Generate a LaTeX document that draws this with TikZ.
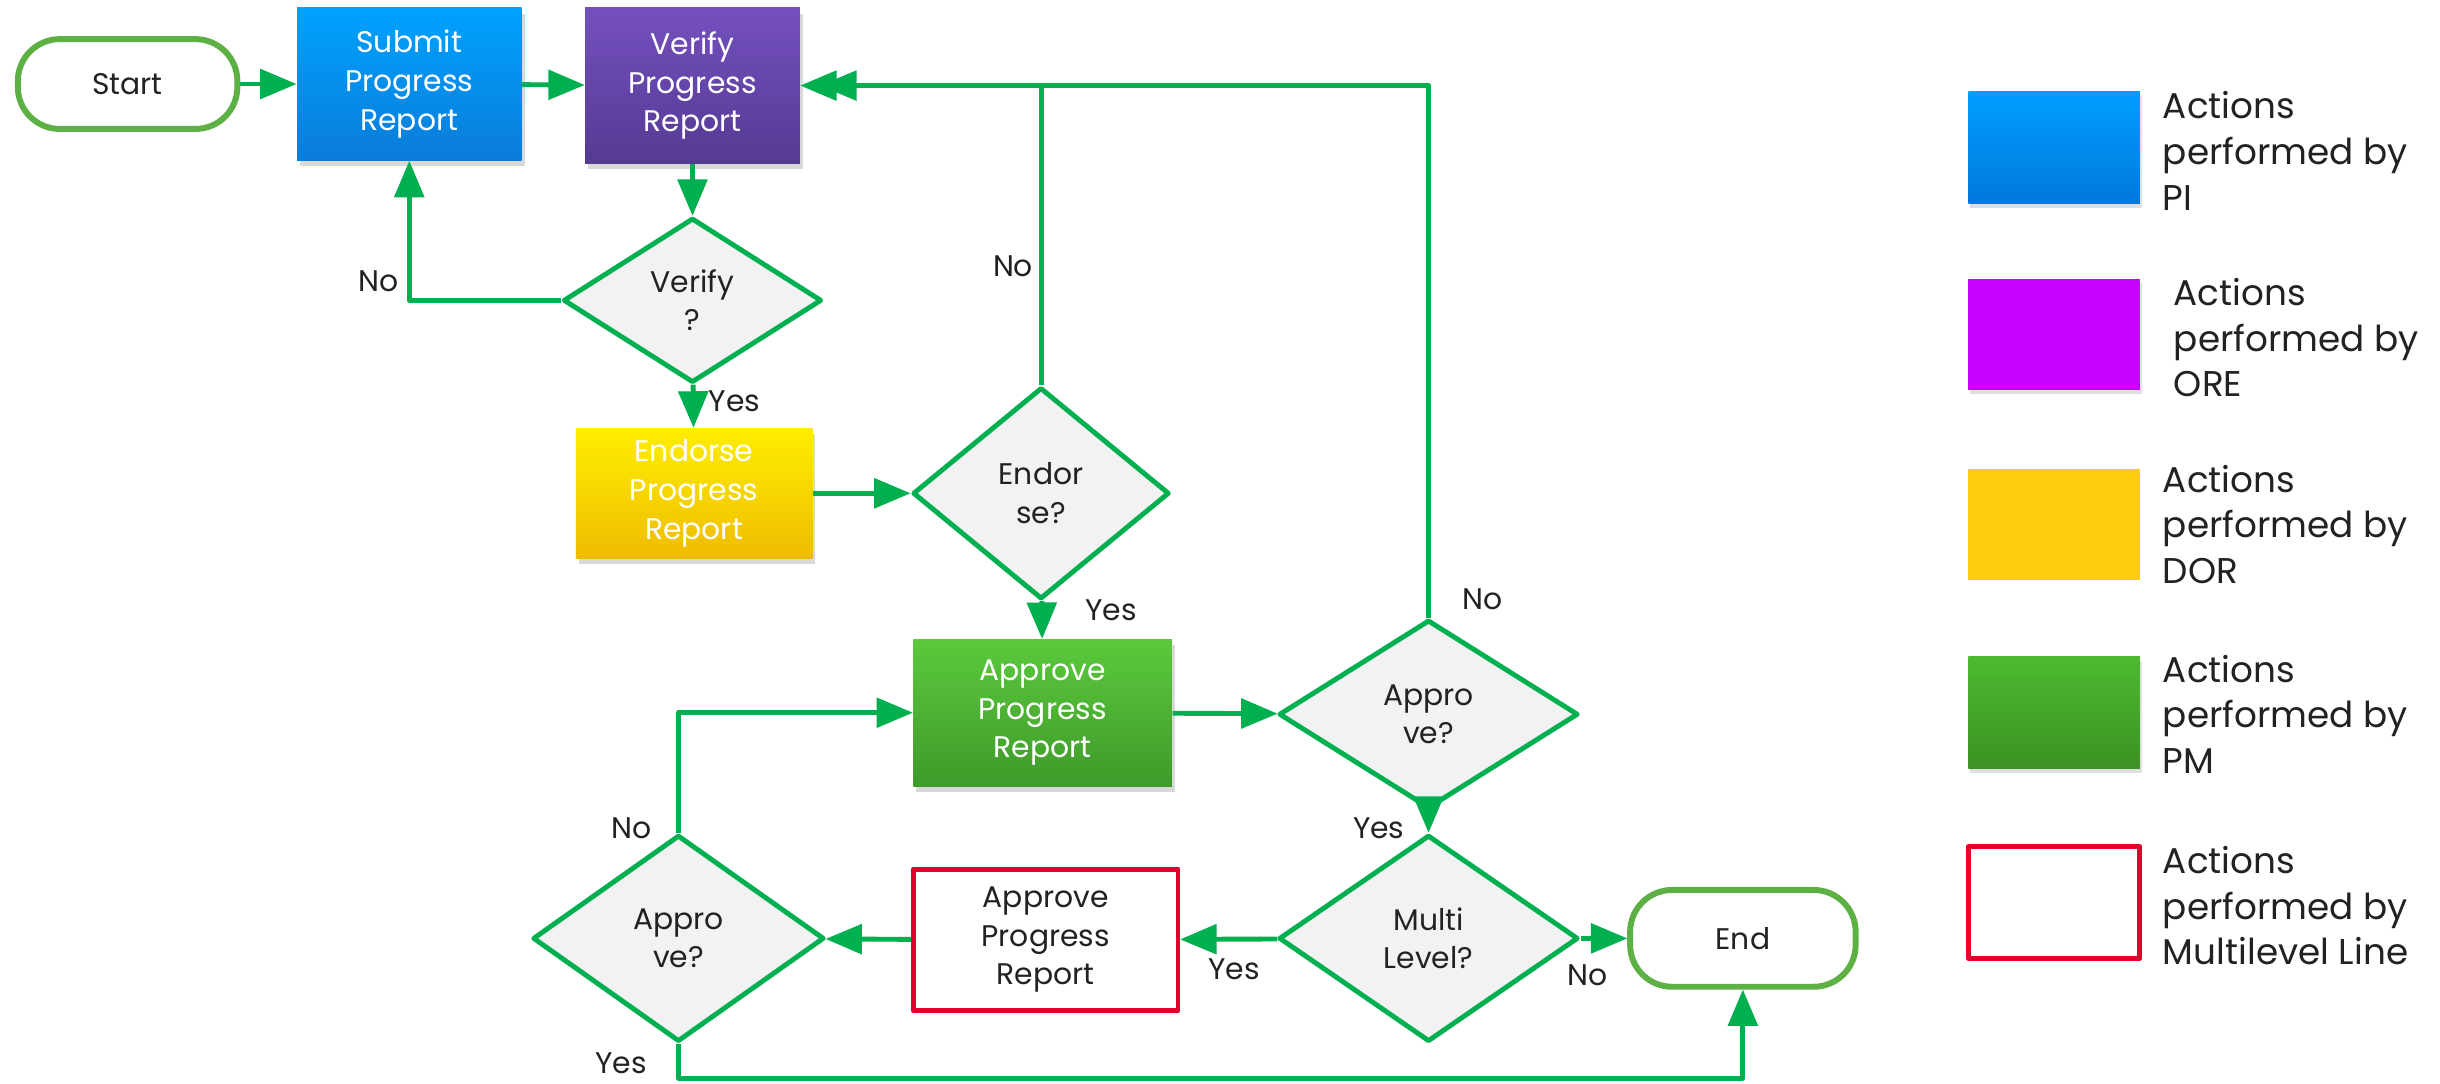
\documentclass[tikz,border=0pt]{standalone}
\usepackage{fontspec}
\setmainfont{Poppins}
\usetikzlibrary{arrows,shapes.geometric,shadows}
\definecolor{flowgreen}{HTML}{00B050}
\definecolor{termgreen}{HTML}{5DB043}
\definecolor{diafill}{HTML}{F2F2F2}
\definecolor{txtgray}{HTML}{222222}
\definecolor{multired}{HTML}{E4002B}
\begin{document}
\begin{tikzpicture}[x=0.0156cm,y=-0.0156cm,>=triangle 45,line join=round,
  conn/.style={draw=flowgreen,line width=1.4pt,->},
  term/.style={draw=termgreen,line width=1.7pt,rounded corners=0.42cm,fill=white,text=txtgray,
    minimum width=2.2cm,minimum height=0.9cm,font=\fontsize{8.5}{11}\selectfont},
  proc/.style={rectangle,align=center,text=white,font=\fontsize{8.5}{11}\selectfont,
    drop shadow={opacity=0.3,shadow xshift=0.03cm,shadow yshift=-0.06cm}},
  decide/.style={diamond,draw=flowgreen,line width=1.4pt,fill=diafill,inner sep=0pt,
    align=center,text=txtgray,font=\fontsize{8.5}{11}\selectfont},
  lbl/.style={text=txtgray,font=\fontsize{8.5}{11}\selectfont},
  keybox/.style={minimum width=1.72cm,minimum height=1.12cm,inner sep=0pt},
  keytext/.style={anchor=west,align=left,text=txtgray,font=\fontsize{10.2}{13}\selectfont}]
\useasboundingbox (0,0) rectangle (1568,696);
\node[term] (start) at (82,54) {Start};
\node[proc,minimum width=2.25cm,minimum height=1.53cm,top color={rgb,255:red,0;green,162;blue,255},bottom color={rgb,255:red,10;green,124;blue,216}] (submit) at (263,54) {Submit\\Progress\\Report};
\node[proc,minimum width=2.15cm,minimum height=1.56cm,top color={rgb,255:red,116;green,80;blue,190},bottom color={rgb,255:red,85;green,58;blue,147}] (verify) at (445,55) {Verify\\Progress\\Report};
\node[decide,minimum width=2.59cm,minimum height=1.65cm] (verq) at (445,193) {Verify\\?};
\node[proc,minimum width=2.37cm,minimum height=1.23cm,top color={rgb,255:red,255;green,238;blue,0},bottom color={rgb,255:red,238;green,188;blue,0}] (endorse) at (446,317) {Endorse\\Progress\\Report};
\node[decide,minimum width=2.57cm,minimum height=2.12cm] (endq) at (669,317) {Endor\\se?};
\node[proc,minimum width=2.59cm,minimum height=1.47cm,top color={rgb,255:red,91;green,201;blue,60},bottom color={rgb,255:red,63;green,154;blue,42}] (approve) at (670,458) {Approve\\Progress\\Report};
\node[decide,minimum width=3cm,minimum height=1.89cm] (appq) at (918,459) {Appro\\ve?};
\node[decide,minimum width=3cm,minimum height=2.07cm] (multq) at (918,603) {Multi\\Level?};
\node[term,minimum width=2.26cm,minimum height=0.97cm] (end) at (1120,603) {End};
\node[rectangle,draw=multired,line width=1.4pt,fill=white,align=center,text=txtgray,font=\fontsize{8.5}{11}\selectfont,minimum width=2.65cm,minimum height=1.42cm] (multi) at (672,604) {Approve\\Progress\\Report};
\node[decide,minimum width=2.92cm,minimum height=2.07cm] (lineq) at (436,603) {Appro\\ve?};
\coordinate (bottom) at (436,693);
\draw[conn] (start) -- (submit);
\draw[conn] (submit) -- (verify);
\draw[conn] (verify) -- (verq);
\draw[conn] (verq.west) -| (submit.south);
\draw[conn] (verq) -- (endorse);
\draw[conn] (endorse) -- (endq);
\draw[conn] (endq.north) |- (verify.east);
\draw[conn,shorten >=0.2cm] (appq.north) |- (verify.east);
\draw[conn] (endq) -- (approve);
\draw[conn] (approve) -- (appq);
\draw[conn] (appq) -- (multq);
\draw[conn] (multq) -- (multi);
\draw[conn] (multi) -- (lineq);
\draw[conn] (multq) -- (end);
\draw[conn] (lineq.north) |- (approve.west);
\draw[conn] (lineq.south) -- (bottom) -| (end.south);
\node[lbl] (l1) at (243,181) {No};
\node[lbl] (l2) at (472,258) {Yes};
\node[lbl] (l3) at (651,171) {No};
\node[lbl] (l4) at (714,392) {Yes};
\node[lbl] (l5) at (953,385) {No};
\node[lbl] (l6) at (886,532) {Yes};
\node[lbl] (l7) at (406,532) {No};
\node[lbl] (l8) at (793,623) {Yes};
\node[lbl] (l9) at (1020,627) {No};
\node[lbl] (l10) at (399,683) {Yes};
\node[keybox,top color={rgb,255:red,0;green,158;blue,255},bottom color={rgb,255:red,0;green,120;blue,220},drop shadow={opacity=0.25,shadow xshift=0.02cm,shadow yshift=-0.04cm}] (kpi) at (1320,95) {};
\node[keybox,fill={rgb,255:red,200;green,0;blue,255},drop shadow={opacity=0.25,shadow xshift=0.02cm,shadow yshift=-0.04cm}] (kore) at (1320,215) {};
\node[keybox,fill={rgb,255:red,255;green,204;blue,13}] (kdor) at (1320,337) {};
\node[keybox,top color={rgb,255:red,76;green,186;blue,47},bottom color={rgb,255:red,60;green,146;blue,36},drop shadow={opacity=0.25,shadow xshift=0.02cm,shadow yshift=-0.04cm}] (kpm) at (1320,458) {};
\node[keybox,draw=multired,line width=1.4pt,fill=white] (kml) at (1320,580) {};
\node[keytext] (tpi) at (1382,97) {Actions\\performed by\\PI};
\node[keytext] (tore) at (1389,217) {Actions\\performed by\\ORE};
\node[keytext] (tdor) at (1382,337) {Actions\\performed by\\DOR};
\node[keytext] (tpm) at (1382,459) {Actions\\performed by\\PM};
\node[keytext] (tml) at (1382,582) {Actions\\performed by\\Multilevel Line};
\end{tikzpicture}
\end{document}
